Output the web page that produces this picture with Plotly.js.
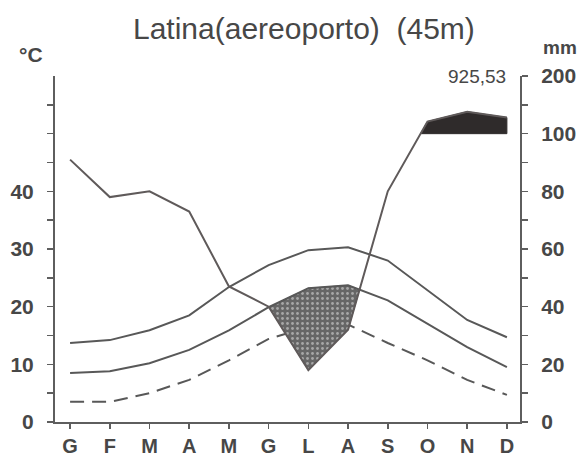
<!DOCTYPE html>
<html><head><meta charset="utf-8">
<script src="https://cdn.plot.ly/plotly-3.0.1.min.js"></script>
<style>html,body{margin:0;padding:0;background:#fff;}#chart{width:581px;height:459px;}</style>
</head><body><div id="chart"></div>
<script>
// ---- data ----
const months = ['G','F','M','A','M','G','L','A','S','O','N','D'];
const tempMax  = [13.7, 14.2, 15.9, 18.5, 23.4, 27.2, 29.8, 30.3, 28.0, 22.9, 17.7, 14.7];
const tempMean = [8.5, 8.8, 10.2, 12.5, 15.9, 19.9, 23.2, 23.7, 21.1, 17.1, 13.0, 9.5];
const tempMin  = [3.5, 3.5, 5.0, 7.3, 10.7, 14.4, 16.5, 16.9, 13.7, 10.7, 7.3, 4.7];
const precipMm = [91, 78, 80, 73, 47, 40, 18, 32, 80, 121, 138, 128];
const annualPrecip = '925,53';
const titleText = 'Latina(aereoporto)  (45m)';
const tempTickVals = [0,5,10,15,20,25,30,35,40,45,50,55];
const tempTickText = ['0','','10','','20','','30','','40','','',''];
const mmTickVals = [0,5,10,15,20,25,30,35,40,45,50,55,60];
const mmTickText = ['0','','20','','40','','60','','80','','100','','200'];

// Walter-Lieth scaling: 2 mm per degree up to 100 mm, then 1/10
function scaleP(p){ return p <= 100 ? p/2 : 50 + (p-100)/10; }
const precipScaled = precipMm.map(scaleP);
const monthIdx = months.map((m,i)=>i);

function regionsAbove(a, b){
  const polys = []; let cur = null;
  for (let i=0;i<a.length;i++){
    const d = a[i]-b[i];
    if (d > 0){
      if (!cur){
        cur = {top:[], bot:[]};
        if (i>0){
          const dp = a[i-1]-b[i-1]; const t = dp/(dp-d);
          const x = i-1+t, y = a[i-1]+t*(a[i]-a[i-1]);
          cur.top.push([x,y]); cur.bot.push([x,y]);
        }
      }
      cur.top.push([i,a[i]]); cur.bot.push([i,b[i]]);
    } else if (cur){
      const dp = a[i-1]-b[i-1]; const t = dp/(dp-d);
      const x = i-1+t, y = a[i-1]+t*(a[i]-a[i-1]);
      cur.top.push([x,y]); cur.bot.push([x,y]);
      polys.push(cur); cur = null;
    }
  }
  if (cur) polys.push(cur);
  return polys.map(c=>{const pts=c.top.concat(c.bot.slice().reverse());return {x:pts.map(p=>p[0]),y:pts.map(p=>p[1])};});
}

const lineCol = '#585858';
const axCol = '#5e5e5e';
const txtCol = '#474747';
const traces = [];
traces.push({x:monthIdx, y:tempMin, mode:'lines', line:{color:lineCol, width:2, dash:'14px,8px'}, hoverinfo:'skip'});
regionsAbove(tempMean, precipScaled).forEach(p=>{
  traces.push({x:p.x, y:p.y, mode:'lines', fill:'toself', fillcolor:'#6a6a6a',
    fillpattern:{shape:'.', fgcolor:'#a8a8a8', bgcolor:'#666666', size:5, solidity:0.25},
    line:{width:1, color:'#5a5a5a'}, hoverinfo:'skip'});
});
const cap = precipScaled.map(()=>50);
regionsAbove(precipScaled, cap).forEach(p=>{
  traces.push({x:p.x, y:p.y, mode:'lines', fill:'toself', fillcolor:'#2f2b2b',
    line:{width:1, color:'#2f2b2b'}, hoverinfo:'skip'});
});
traces.push({x:monthIdx, y:tempMax, mode:'lines', line:{color:lineCol, width:2}, hoverinfo:'skip'});
traces.push({x:monthIdx, y:tempMean, mode:'lines', line:{color:lineCol, width:2}, hoverinfo:'skip'});
traces.push({x:monthIdx, y:precipScaled, mode:'lines', line:{color:'#5f5a5a', width:2}, hoverinfo:'skip'});
traces.push({x:[0], y:[0], yaxis:'y2', mode:'markers', marker:{opacity:0}, hoverinfo:'skip'});

const W=581, H=459, mL=55, mR=61, mT=76, mB=37;
const pw = W-mL-mR, ph = H-mT-mB;
const px = v => (v-mL)/pw;
const py = v => (H-mB-v)/ph;
const font = 'Liberation Sans, Arial, sans-serif';

const layout = {
  width:W, height:H, margin:{l:mL, r:mR, t:mT, b:mB},
  paper_bgcolor:'#fff', plot_bgcolor:'#fff', showlegend:false,
  font:{family:font, color:txtCol},
  xaxis:{range:[-0.38, 11.33], tickvals:monthIdx, ticktext:months, showgrid:false, zeroline:false,
    showline:true, linecolor:axCol, linewidth:2, ticks:'outside', ticklen:5, tickwidth:1.5, tickcolor:axCol,
    tickfont:{size:20, family:font, color:txtCol, weight:'bold'}, ticklabelstandoff:0},
  yaxis:{range:[0,60], tickvals:tempTickVals, ticktext:tempTickText, showgrid:false, zeroline:false,
    showline:true, linecolor:axCol, linewidth:2, ticks:'outside', ticklen:6, tickwidth:1.5, tickcolor:axCol,
    tickfont:{size:21, family:font, color:txtCol, weight:'bold'}, ticklabelstandoff:9},
  yaxis2:{range:[0,60], overlaying:'y', side:'right', tickvals:mmTickVals, ticktext:mmTickText, showgrid:false, zeroline:false,
    showline:true, linecolor:axCol, linewidth:2, ticks:'outside', ticklen:6, tickwidth:1.5, tickcolor:axCol,
    tickfont:{size:21, family:font, color:txtCol, weight:'bold'}, ticklabelstandoff:9},
  annotations:[
    {text:titleText, xref:'paper', yref:'paper', x:px(304), y:py(29), xanchor:'center', yanchor:'middle', showarrow:false,
      font:{size:30, family:font, color:txtCol}},
    {text:'°C', xref:'paper', yref:'paper', x:px(31), y:py(54), xanchor:'center', yanchor:'middle', showarrow:false,
      font:{size:21, family:font, color:txtCol, weight:'bold'}},
    {text:'mm', xref:'paper', yref:'paper', x:px(541), y:py(48), xanchor:'left', yanchor:'middle', showarrow:false,
      font:{size:19, family:font, color:txtCol, weight:'bold'}},
    {text:annualPrecip, xref:'paper', yref:'paper', x:px(508), y:py(76), xanchor:'right', yanchor:'middle', showarrow:false,
      font:{size:19, family:font, color:txtCol}}
  ]
};
Plotly.newPlot('chart', traces, layout, {staticPlot:true, displayModeBar:false});
</script></body></html>
